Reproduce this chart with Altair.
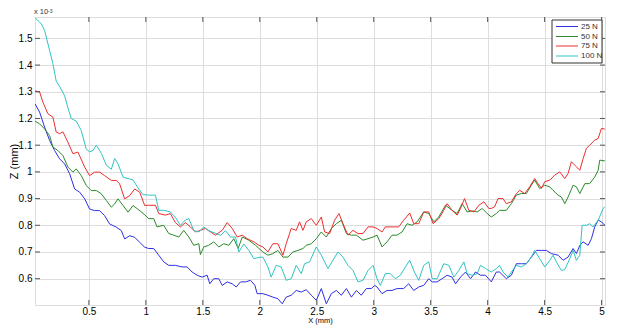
import altair as alt
import pandas as pd

series_names = ["25 N", "50 N", "75 N", "100 N"]
series_colors = ["#2f2fe4", "#2a8a2a", "#ee2e2e", "#2fc3c3"]

x_ticks = [0.5, 1, 1.5, 2, 2.5, 3, 3.5, 4, 4.5, 5]
y_ticks = [0.6, 0.7, 0.8, 0.9, 1, 1.1, 1.2, 1.3, 1.4, 1.5]

# 25 N
x_25 = [0.027, 0.067, 0.111, 0.155, 0.199, 0.243, 0.287, 0.331, 0.375, 0.419, 0.463, 0.506, 0.55, 0.594, 0.638, 0.682, 0.741, 0.785, 0.814, 0.858, 0.902, 0.946, 0.99,
        1.025, 1.069, 1.113, 1.157, 1.201, 1.259, 1.318, 1.362, 1.406, 1.45, 1.494, 1.538, 1.561, 1.596, 1.64, 1.67, 1.714, 1.758, 1.793, 1.831, 1.875, 1.919, 1.957, 1.977,
        2.027, 2.071, 2.115, 2.159, 2.197, 2.232, 2.276, 2.32, 2.364, 2.408, 2.452, 2.496, 2.54, 2.584, 2.628, 2.672, 2.716, 2.76, 2.804, 2.848, 2.891, 2.935, 2.979, 3.009,
        3.029, 3.073, 3.117, 3.161, 3.205, 3.263, 3.307, 3.351, 3.395, 3.439, 3.483, 3.513, 3.556, 3.6, 3.644, 3.688, 3.718, 3.762, 3.806, 3.85, 3.893, 3.937, 3.981,
        4.032, 4.076, 4.105, 4.164, 4.208, 4.252, 4.296, 4.34, 4.384, 4.428, 4.472, 4.516, 4.559, 4.618, 4.662, 4.706, 4.75, 4.779, 4.809, 4.838, 4.882, 4.911, 4.94, 4.97, 4.999, 5.029]
z_25 = [1.255, 1.224, 1.168, 1.118, 1.08, 1.049, 1.03, 0.993, 0.936, 0.924, 0.899, 0.861, 0.855, 0.855, 0.836, 0.805, 0.793, 0.78, 0.749, 0.761, 0.755, 0.736, 0.718,
        0.713, 0.713, 0.688, 0.663, 0.65, 0.65, 0.644, 0.644, 0.625, 0.613, 0.606, 0.613, 0.581, 0.60, 0.60, 0.575, 0.588, 0.581, 0.569, 0.588, 0.588, 0.594, 0.575, 0.544,
        0.544, 0.538, 0.531, 0.525, 0.506, 0.531, 0.538, 0.556, 0.55, 0.559, 0.538, 0.519, 0.563, 0.506, 0.544, 0.556, 0.538, 0.563, 0.531, 0.556, 0.538, 0.563, 0.563, 0.575,
        0.569, 0.544, 0.556, 0.556, 0.563, 0.563, 0.581, 0.556, 0.569, 0.575, 0.60, 0.588, 0.588, 0.60, 0.613, 0.606, 0.581, 0.606, 0.625, 0.60, 0.625, 0.613, 0.613,
        0.588, 0.625, 0.625, 0.60, 0.613, 0.656, 0.656, 0.656, 0.681, 0.706, 0.706, 0.706, 0.694, 0.688, 0.669, 0.681, 0.713, 0.694, 0.725, 0.738, 0.725, 0.75, 0.794, 0.819, 0.813, 0.80]

# 50 N
x_50 = [0.027, 0.067, 0.111, 0.155, 0.184, 0.228, 0.272, 0.316, 0.36, 0.389, 0.433, 0.477, 0.521, 0.565, 0.609, 0.653, 0.697, 0.726, 0.756, 0.80, 0.844, 0.887, 0.931, 0.975,
        1.025, 1.069, 1.098, 1.157, 1.201, 1.245, 1.289, 1.333, 1.377, 1.421, 1.465, 1.479, 1.508, 1.552, 1.596, 1.64, 1.684, 1.728, 1.772, 1.81, 1.846, 1.904, 1.963,
        2.027, 2.071, 2.115, 2.159, 2.203, 2.247, 2.291, 2.335, 2.379, 2.408, 2.452, 2.496, 2.54, 2.584, 2.628, 2.672, 2.716, 2.76, 2.804, 2.848, 2.906, 2.95, 2.994,
        3.029, 3.073, 3.117, 3.161, 3.205, 3.249, 3.293, 3.337, 3.381, 3.439, 3.483, 3.527, 3.571, 3.63, 3.688, 3.732, 3.776, 3.82, 3.864, 3.908, 3.952, 3.996,
        4.032, 4.076, 4.105, 4.164, 4.208, 4.252, 4.296, 4.34, 4.384, 4.413, 4.457, 4.501, 4.545, 4.574, 4.618, 4.647, 4.677, 4.706, 4.75, 4.779, 4.809, 4.853, 4.896, 4.94, 4.97, 4.984, 5.029]
z_50 = [1.19, 1.18, 1.161, 1.136, 1.093, 1.08, 1.061, 1.018, 0.999, 1.011, 0.986, 0.949, 0.93, 0.93, 0.918, 0.893, 0.868, 0.88, 0.899, 0.874, 0.849, 0.874, 0.86, 0.845,
        0.825, 0.825, 0.794, 0.80, 0.769, 0.763, 0.756, 0.781, 0.756, 0.725, 0.731, 0.69, 0.719, 0.725, 0.738, 0.719, 0.731, 0.725, 0.75, 0.713, 0.756, 0.744, 0.725,
        0.70, 0.688, 0.694, 0.706, 0.681, 0.681, 0.70, 0.706, 0.713, 0.725, 0.731, 0.75, 0.775, 0.756, 0.788, 0.806, 0.819, 0.769, 0.763, 0.763, 0.744, 0.75, 0.756,
        0.763, 0.719, 0.738, 0.763, 0.763, 0.775, 0.806, 0.80, 0.813, 0.85, 0.844, 0.813, 0.831, 0.875, 0.856, 0.844, 0.881, 0.85, 0.854, 0.85, 0.863, 0.844,
        0.831, 0.844, 0.856, 0.856, 0.881, 0.913, 0.919, 0.919, 0.95, 0.969, 0.938, 0.95, 0.944, 0.931, 0.913, 0.906, 0.881, 0.906, 0.95, 0.944, 0.919, 0.956, 0.956, 0.981, 1.006, 1.044, 1.041]

# 75 N
x_75 = [0.027, 0.067, 0.096, 0.14, 0.184, 0.213, 0.243, 0.272, 0.316, 0.36, 0.404, 0.463, 0.506, 0.55, 0.594, 0.638, 0.697, 0.741, 0.77, 0.814, 0.858, 0.902, 0.946, 0.99,
        1.025, 1.084, 1.113, 1.172, 1.215, 1.259, 1.303, 1.347, 1.391, 1.435, 1.479, 1.523, 1.567, 1.611, 1.67, 1.714, 1.758, 1.802, 1.846, 1.89, 1.948, 1.992,
        2.027, 2.071, 2.115, 2.159, 2.203, 2.232, 2.276, 2.32, 2.349, 2.379, 2.408, 2.452, 2.496, 2.54, 2.569, 2.613, 2.657, 2.695, 2.73, 2.774, 2.818, 2.862, 2.906, 2.95, 2.994,
        3.029, 3.073, 3.102, 3.161, 3.219, 3.263, 3.316, 3.351, 3.395, 3.439, 3.483, 3.521, 3.571, 3.615, 3.644, 3.688, 3.732, 3.762, 3.797, 3.835, 3.879, 3.923, 3.967, 4.011,
        4.032, 4.061, 4.091, 4.135, 4.164, 4.208, 4.252, 4.281, 4.325, 4.369, 4.413, 4.442, 4.472, 4.501, 4.545, 4.589, 4.633, 4.677, 4.706, 4.735, 4.779, 4.809, 4.838, 4.867, 4.896, 4.94, 4.97, 4.999, 5.029]
z_75 = [1.303, 1.30, 1.261, 1.218, 1.205, 1.149, 1.143, 1.15, 1.111, 1.068, 1.074, 1.018, 0.986, 0.999, 0.999, 0.986, 0.968, 0.968, 0.955, 0.899, 0.911, 0.936, 0.924, 0.874,
        0.875, 0.875, 0.844, 0.838, 0.844, 0.81, 0.794, 0.81, 0.794, 0.775, 0.781, 0.788, 0.775, 0.763, 0.781, 0.81, 0.788, 0.756, 0.763, 0.75, 0.738, 0.725,
        0.719, 0.70, 0.731, 0.731, 0.688, 0.731, 0.788, 0.781, 0.813, 0.781, 0.813, 0.825, 0.80, 0.831, 0.775, 0.769, 0.819, 0.844, 0.806, 0.763, 0.781, 0.769, 0.769, 0.794, 0.794,
        0.788, 0.775, 0.794, 0.794, 0.794, 0.819, 0.846, 0.806, 0.806, 0.85, 0.85, 0.806, 0.825, 0.856, 0.881, 0.856, 0.838, 0.863, 0.90, 0.856, 0.85, 0.875, 0.888, 0.863,
        0.863, 0.869, 0.90, 0.90, 0.881, 0.888, 0.919, 0.931, 0.919, 0.944, 0.975, 0.956, 0.938, 0.963, 0.969, 0.988, 1.0, 0.975, 0.994, 1.038, 1.019, 1.006, 1.05, 1.088, 1.10, 1.119, 1.125, 1.163, 1.16]

# 100 N
x_100 = [0.027, 0.067, 0.082, 0.111, 0.155, 0.184, 0.213, 0.243, 0.287, 0.316, 0.345, 0.389, 0.433, 0.477, 0.506, 0.536, 0.565, 0.609, 0.653, 0.697, 0.726, 0.756, 0.80, 0.844, 0.887, 0.931, 0.975,
         1.025, 1.084, 1.113, 1.157, 1.215, 1.259, 1.303, 1.347, 1.377, 1.421, 1.465, 1.508, 1.552, 1.611, 1.655, 1.699, 1.743, 1.787, 1.816, 1.86, 1.904, 1.948, 1.992,
         2.027, 2.071, 2.10, 2.144, 2.188, 2.232, 2.276, 2.32, 2.364, 2.393, 2.437, 2.496, 2.54, 2.598, 2.642, 2.686, 2.73, 2.774, 2.818, 2.862, 2.906, 2.95, 2.994,
         3.029, 3.058, 3.102, 3.146, 3.19, 3.234, 3.278, 3.316, 3.357, 3.395, 3.439, 3.483, 3.513, 3.556, 3.615, 3.659, 3.703, 3.747, 3.791, 3.82, 3.864, 3.908, 3.937, 3.981,
         4.032, 4.076, 4.105, 4.135, 4.179, 4.208, 4.252, 4.296, 4.34, 4.384, 4.413, 4.457, 4.501, 4.545, 4.574, 4.603, 4.647, 4.677, 4.721, 4.75, 4.779, 4.809, 4.829, 4.867, 4.896, 4.926, 4.97, 5.014, 5.029]
z_100 = [1.578, 1.56, 1.555, 1.53, 1.455, 1.405, 1.34, 1.32, 1.285, 1.24, 1.20, 1.19, 1.155, 1.085, 1.075, 1.08, 1.10, 1.07, 1.025, 1.01, 1.05, 1.03, 0.98, 0.975, 0.97, 0.94, 0.915,
         0.913, 0.913, 0.856, 0.856, 0.85, 0.83, 0.80, 0.82, 0.825, 0.78, 0.775, 0.794, 0.78, 0.77, 0.762, 0.78, 0.756, 0.756, 0.70, 0.73, 0.706, 0.675, 0.68,
         0.681, 0.644, 0.606, 0.65, 0.644, 0.594, 0.60, 0.65, 0.619, 0.656, 0.663, 0.719, 0.688, 0.638, 0.669, 0.70, 0.681, 0.65, 0.631, 0.588, 0.594, 0.631, 0.65,
         0.60, 0.575, 0.619, 0.619, 0.60, 0.613, 0.644, 0.669, 0.625, 0.594, 0.65, 0.663, 0.60, 0.60, 0.656, 0.65, 0.606, 0.631, 0.663, 0.619, 0.613, 0.619, 0.65, 0.638,
         0.625, 0.638, 0.65, 0.625, 0.606, 0.625, 0.65, 0.644, 0.656, 0.681, 0.706, 0.675, 0.644, 0.669, 0.688, 0.663, 0.631, 0.634, 0.675, 0.706, 0.669, 0.688, 0.80, 0.80, 0.806, 0.794, 0.819, 0.863, 0.869]

series_x = [x_25, x_50, x_75, x_100]
series_z = [z_25, z_50, z_75, z_100]

rows = []
for name, xs, zs in zip(series_names, series_x, series_z):
    assert len(xs) == len(zs), (name, len(xs), len(zs))
    for i, (xv, zv) in enumerate(zip(xs, zs)):
        rows.append({"x": xv, "z": zv, "load": name, "i": i})
df = pd.DataFrame(rows)

W, H = 570, 288
FONT = "Liberation Sans"
TXT = "#333333"

x_scale = alt.Scale(domain=[0.027, 5.03], nice=False, zero=False)
y_scale = alt.Scale(domain=[0.5015, 1.58], nice=False, zero=False)
x_axis = alt.Axis(values=x_ticks, format="~g", title="X (mm)", labelPadding=1,
                  titleY=11, titleBaseline="top", titleFontWeight="normal", titleFontSize=7.5,
                  ticks=False, domain=False, grid=True)
y_axis = alt.Axis(values=y_ticks, format="~g", title="Z (mm)", labelPadding=3,
                  titleX=-16, titleBaseline="bottom", titleFontWeight="normal",
                  ticks=False, domain=False, grid=True)

lines = alt.Chart(df).mark_line(strokeWidth=1, clip=True).encode(
    x=alt.X("x:Q", scale=x_scale, axis=x_axis, title="X (mm)"),
    y=alt.Y("z:Q", scale=y_scale, axis=y_axis, title="Z (mm)"),
    color=alt.Color("load:N", scale=alt.Scale(domain=series_names, range=series_colors), legend=None),
    order=alt.Order("i:Q"),
)

xt = pd.DataFrame({"x": x_ticks})
yt = pd.DataFrame({"z": y_ticks})
tick_color = "#555555"
xb = alt.Chart(xt).mark_rule(color=tick_color, strokeWidth=1).encode(
    x=alt.X("x:Q", scale=x_scale, axis=x_axis, title="X (mm)"), y=alt.value(H), y2=alt.value(H - 5))
xtop = alt.Chart(xt).mark_rule(color=tick_color, strokeWidth=1).encode(
    x=alt.X("x:Q", scale=x_scale, axis=x_axis, title="X (mm)"), y=alt.value(0), y2=alt.value(5))
yl = alt.Chart(yt).mark_rule(color=tick_color, strokeWidth=1).encode(
    y=alt.Y("z:Q", scale=y_scale, axis=y_axis, title="Z (mm)"), x=alt.value(0), x2=alt.value(5))
yr = alt.Chart(yt).mark_rule(color=tick_color, strokeWidth=1).encode(
    y=alt.Y("z:Q", scale=y_scale, axis=y_axis, title="Z (mm)"), x=alt.value(W), x2=alt.value(W - 5))

one = pd.DataFrame({"k": [0]})
exp_base = alt.Chart(one).mark_text(align="left", baseline="alphabetic", fontSize=7.5, font=FONT, color=TXT).encode(
    x=alt.value(-1), y=alt.value(-3), text=alt.value("x 10"))
exp_sup = alt.Chart(one).mark_text(align="left", baseline="alphabetic", fontSize=5, font=FONT, color=TXT).encode(
    x=alt.value(13), y=alt.value(-4.5), text=alt.value("-3"))

legend_box = alt.Chart(one).mark_rect(fill="white", stroke="#333333", strokeWidth=1).encode(
    x=alt.value(517), x2=alt.value(567), y=alt.value(3), y2=alt.value(46))
legend_layers = [legend_box]
row_y = [9.5, 19.5, 29, 39]
for name, col, ry in zip(series_names, series_colors, row_y):
    d = pd.DataFrame({"name": [name]})
    legend_layers.append(alt.Chart(d).mark_rule(color=col, strokeWidth=1).encode(
        x=alt.value(521), x2=alt.value(543), y=alt.value(ry)))
    legend_layers.append(alt.Chart(d).mark_text(align="left", baseline="middle", fontSize=8, font=FONT, color=TXT).encode(
        x=alt.value(546), y=alt.value(ry), text="name:N"))

chart = alt.layer(lines, xb, xtop, yl, yr, exp_base, exp_sup, *legend_layers).properties(
    width=W, height=H,
    autosize=alt.AutoSizeParams(type="none"),
    padding={"left": 27, "top": 9, "right": 5, "bottom": 20},
).configure_view(
    stroke="#666666", strokeWidth=1.2
).configure_axis(
    gridColor="#9a9a9a", gridDash=[1, 2], gridWidth=1, gridOpacity=1,
    labelFont=FONT, labelFontSize=8, labelColor=TXT,
    titleFont=FONT, titleFontSize=8, titleColor=TXT, titleFontWeight="normal",
).configure(background="white")

chart.save("out.html", embed_options={"renderer": "svg", "actions": False})
